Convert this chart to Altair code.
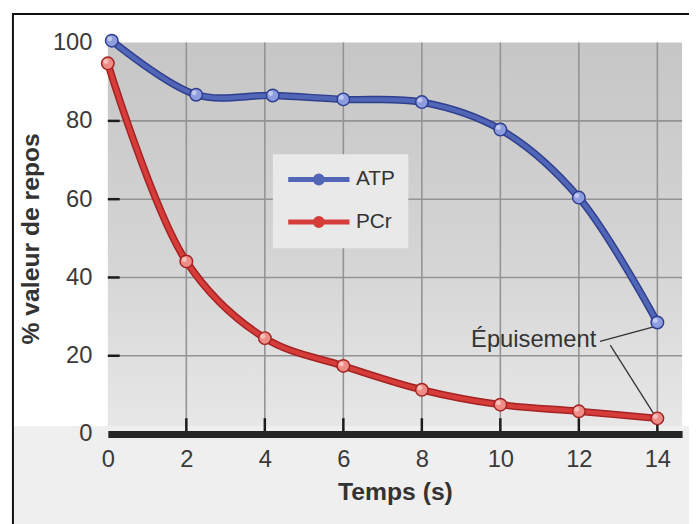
import altair as alt
import pandas as pd

# ---- data ----
series = ["ATP", "PCr"]
temps_atp = [0.1, 2.25, 4.2, 6.0, 8.0, 10.0, 12.0, 14.0]
atp = [100.5, 86.7, 86.5, 85.5, 84.8, 77.8, 60.4, 28.5]
temps_pcr = [0, 2, 4, 6, 8, 10, 12, 14]
pcr = [94.7, 44.1, 24.5, 17.4, 11.3, 7.5, 5.8, 4.0]
x_ticks = [0, 2, 4, 6, 8, 10, 12, 14]
y_ticks = [0, 20, 40, 60, 80, 100]
annot_label = ["Épuisement"]
annot_t = [10.85]
annot_v = [24]
leader_t = [12.54, 12.80]
leader_v = [23.7, 22.7]
leader_t2 = [13.95, 13.95]
leader_v2 = [27.5, 4.5]

FONT = "Liberation Sans"
W, H = 581, 396

df = pd.DataFrame({
    "t": temps_atp + temps_pcr,
    "v": atp + pcr,
    "s": [series[0]] * len(atp) + [series[1]] * len(pcr),
})

xs = alt.Scale(domain=[0, 14.63], nice=False, zero=False)
ys = alt.Scale(domain=[0, 100], nice=False)

ax_x = alt.Axis(values=x_ticks, grid=False, ticks=False, tickSize=0, domainWidth=7,
                domainColor="#262626", labelFontSize=24, labelColor="#3a3a3a",
                labelPadding=14, labelFlush=False, labelOverlap=False,
                titleFontSize=25, titleFontWeight="bold", titleColor="#333333",
                titlePadding=8, labelFont=FONT, titleFont=FONT, zindex=1)
ax_y = alt.Axis(values=y_ticks, grid=False, ticks=False, tickSize=0, domain=False,
                labelFontSize=24, labelColor="#3a3a3a", labelPadding=16,
                labelFlush=False, labelOverlap=False,
                titleFontSize=25, titleFontWeight="bold", titleColor="#333333",
                titlePadding=9, labelFont=FONT, titleFont=FONT, zindex=1)

X = alt.X("t:Q", scale=xs, axis=ax_x, title="Temps (s)")
Y = alt.Y("v:Q", scale=ys, axis=ax_y, title="% valeur de repos")

one = alt.Data(values=[{"a": 1}])

strip = alt.Chart(one).mark_rect(color="#efefef").encode(
    x=alt.value(-96), x2=alt.value(W + 40), y=alt.value(H - 8), y2=alt.value(H + 140))

frame = alt.Chart(one).mark_rect(fillOpacity=0, stroke="#111111", strokeWidth=2).encode(
    x=alt.value(-96), x2=alt.value(W + 40), y=alt.value(-29), y2=alt.value(H + 140))

grad = alt.LinearGradient(
    gradient="linear",
    stops=[alt.GradientStop(color="#c6c6c6", offset=0),
           alt.GradientStop(color="#d4d4d4", offset=0.55),
           alt.GradientStop(color="#e7e7e7", offset=1)],
    x1=0, x2=0, y1=0, y2=1)
bg = alt.Chart(one).mark_rect(fill=grad).encode(
    x=alt.value(0), x2=alt.value(W), y=alt.value(0), y2=alt.value(H - 8))

vgrid = alt.Chart(pd.DataFrame({"t": x_ticks[1:]})).mark_rule(
    color="#939393", strokeWidth=1.6).encode(x=X, y=alt.value(0), y2=alt.value(H))
hgrid = alt.Chart(pd.DataFrame({"v": y_ticks[1:-1]})).mark_rule(
    color="#939393", strokeWidth=1.6).encode(y=Y, x=alt.value(0), x2=alt.value(W))

xtick = alt.Chart(pd.DataFrame({"t": x_ticks[1:]})).mark_rule(
    color="#1c1c1c", strokeWidth=2.5).encode(x=X, y=alt.value(H - 16), y2=alt.value(H))
ytick = alt.Chart(pd.DataFrame({"v": y_ticks[1:-1]})).mark_rule(
    color="#1c1c1c", strokeWidth=2.5).encode(y=Y, x=alt.value(0), x2=alt.value(12))

# legend-bearing scale has an explicit domain; the decorative ones take theirs
# from the data, so Vega-Lite does not merge them into one (disabled) legend
mid = alt.Scale(domain=series, range=["#5266b8", "#d63d3a"])
dark = alt.Scale(range=["#2f3f8e", "#a52222"])
light = alt.Scale(range=["#8e9de0", "#ee8c86"])

legend = alt.Legend(
    title=None, orient="none", legendX=167, legendY=113, padding=13,
    rowPadding=16, labelOffset=46, labelFontSize=21, labelColor="#333333",
    labelFont=FONT, fillColor="#e9e9e9", direction="vertical", zindex=2,
    symbolType="M-1,0L5.2,0M2.45,0A0.35,0.35,0,1,1,1.75,0A0.35,0.35,0,1,1,2.45,0",
    symbolSize=400, symbolStrokeWidth=5)

outline = alt.Chart(df).mark_line(interpolate="catmull-rom", strokeWidth=7.5, strokeCap="round").encode(
    x=X, y=Y, stroke=alt.Stroke("s:N", scale=dark, legend=None))
core = alt.Chart(df).mark_line(interpolate="catmull-rom", strokeWidth=4.5, strokeCap="round").encode(
    x=X, y=Y, color=alt.Color("s:N", scale=mid, legend=legend))

pts = alt.Chart(df).mark_circle(size=160, strokeWidth=1.5, opacity=1).encode(
    x=X, y=Y,
    fill=alt.Fill("s:N", scale=light, legend=None),
    stroke=alt.Stroke("s:N", scale=dark, legend=None))
shine = alt.Chart(df).mark_circle(size=25, color="white", opacity=0.45, xOffset=-2, yOffset=-2).encode(
    x=X, y=Y)

annot = alt.Chart(pd.DataFrame({"t": annot_t, "v": annot_v, "label": annot_label})).mark_text(
    fontSize=24, color="#333333", font=FONT).encode(x=X, y=Y, text="label:N")
leaders = alt.Chart(pd.DataFrame({"t": leader_t, "v": leader_v, "t2": leader_t2, "v2": leader_v2})).mark_rule(
    color="#333333", strokeWidth=1.3).encode(x=X, y=Y, x2="t2:Q", y2="v2:Q")

chart = alt.layer(
    strip, frame, bg, vgrid, hgrid, xtick, ytick, leaders, annot,
    outline, core, pts, shine
).properties(
    width=W, height=H,
    autosize=alt.AutoSizeParams(type="none"),
    padding={"left": 101, "top": 32, "right": 7, "bottom": 88},
).configure(font=FONT).configure_view(stroke="transparent")

chart.save("out.html", embed_options={"renderer": "svg", "actions": False})
